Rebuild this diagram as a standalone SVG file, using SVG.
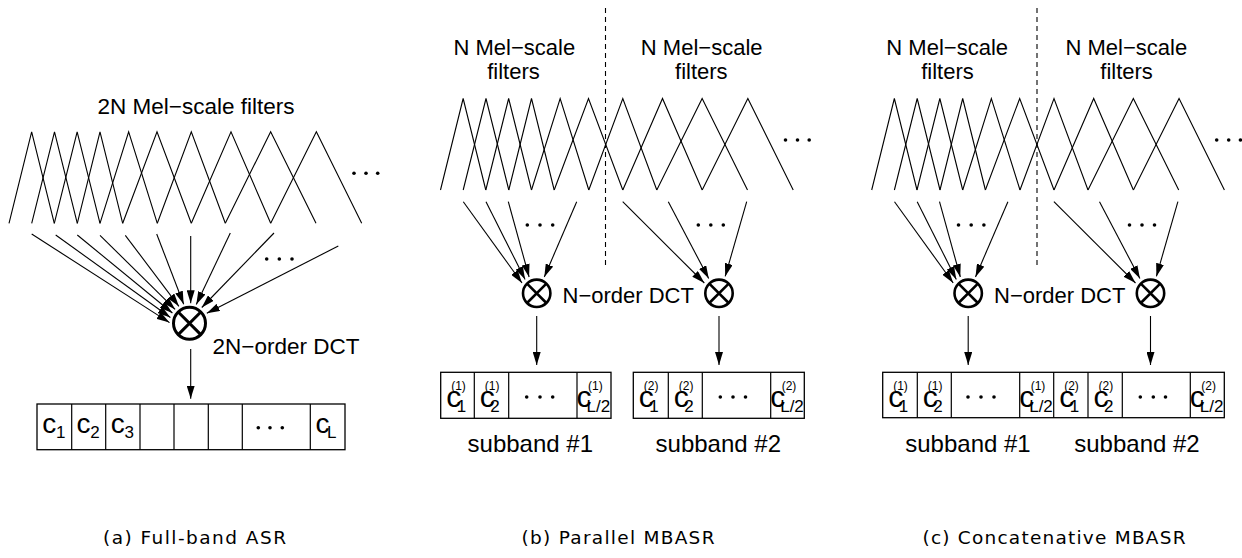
<svg xmlns="http://www.w3.org/2000/svg" xmlns:xlink="http://www.w3.org/1999/xlink" width="1242" height="558" viewBox="0 0 1242 558">
<style>
.t{font-family:"Liberation Sans",Arial,sans-serif;fill:#000}
.lbl{font-size:22px}
.big{font-size:22.5px}
.sb{font-size:24px}
.cap{font-family:"DejaVu Sans",sans-serif;font-size:18.5px;fill:#000}
.cA{font-size:28px}
.cB{font-size:30px}
.sub{font-size:17px}
.sup{font-size:12px}
.fl{fill:none;stroke:#000;stroke-width:1.1}
.ar{fill:none;stroke:#000;stroke-width:1.1;marker-end:url(#ah)}
.bx{fill:#fff;stroke:#000;stroke-width:1.3}
.dv{stroke:#000;stroke-width:1.2}
.dash{stroke:#000;stroke-width:1.1;stroke-dasharray:5 4}
.dot{fill:#000}
</style>
<defs>
<marker id="ah" markerUnits="userSpaceOnUse" markerWidth="13" markerHeight="8" refX="13" refY="4" orient="auto">
<path d="M0,0 L13,4 L0,8 z" fill="#000"/>
</marker>
<g id="bank">
<polyline class="fl" points="9,0 31.65,-91.5 54.3,0"/>
<polyline class="fl" points="31.7,0 54.5,-91.5 77.3,0"/>
<polyline class="fl" points="54.3,0 77.15,-91.5 100,0"/>
<polyline class="fl" points="77.3,0 100,-91.5 122.7,0"/>
<polyline class="fl" points="100,0 128.65,-91.5 157.3,0"/>
<polyline class="fl" points="122.7,0 157,-91.5 191.3,0"/>
<polyline class="fl" points="157.3,0 191.3,-91.5 225.3,0"/>
<polyline class="fl" points="191.3,0 231,-91.5 270.7,0"/>
<polyline class="fl" points="225.3,0 270.65,-91.5 316,0"/>
<polyline class="fl" points="270.7,0 316.35,-91.5 361.7,0"/>
<circle class="dot" cx="354" cy="-50" r="1.8"/>
<circle class="dot" cx="366" cy="-50" r="1.8"/>
<circle class="dot" cx="377.7" cy="-50" r="1.8"/>
</g>
<g id="mulB">
<circle cx="0" cy="0" r="13.7" fill="none" stroke="#000" stroke-width="2.6"/>
<path d="M-9.7,-9.7 L9.7,9.7 M9.7,-9.7 L-9.7,9.7" stroke="#000" stroke-width="2.6"/>
</g>
</defs>

<!-- ===== Panel (a) ===== -->
<g id="a-filters">
<use xlink:href="#bank" transform="translate(0,223.3)"/>
<text class="t big" x="196" y="114.3" text-anchor="middle">2N Mel−scale filters</text>
</g>
<g id="a-dct">
<circle cx="189.5" cy="323.3" r="16" fill="none" stroke="#000" stroke-width="3"/>
<path d="M178.2,312 L200.8,334.6 M200.8,312 L178.2,334.6" stroke="#000" stroke-width="3"/>
<text class="t big" x="212.5" y="354">2N−order DCT</text>
</g>
<g id="a-vector">
<rect class="bx" x="37" y="404" width="308" height="45.7"/>
<path class="dv" d="M71.7,404V449.7M105.7,404V449.7M140,404V449.7M174,404V449.7M208.3,404V449.7M242.3,404V449.7M310.3,404V449.7"/>
<text class="t" x="42.3" y="433.3"><tspan class="cA">c</tspan><tspan class="sub" x="56" y="437.5">1</tspan></text>
<text class="t" x="76.5" y="433.3"><tspan class="cA">c</tspan><tspan class="sub" x="90.2" y="437.5">2</tspan></text>
<text class="t" x="110.7" y="433.3"><tspan class="cA">c</tspan><tspan class="sub" x="124.4" y="437.5">3</tspan></text>
<circle class="dot" cx="258.3" cy="427.7" r="1.8"/>
<circle class="dot" cx="270" cy="427.7" r="1.8"/>
<circle class="dot" cx="282.3" cy="427.7" r="1.8"/>
<text class="t" x="315.5" y="433.3"><tspan class="cA">c</tspan><tspan class="sub" x="327" y="437.5">L</tspan></text>
</g>
<g id="a-caption">
<text class="cap" x="103" y="544" textLength="183" lengthAdjust="spacing">(a) Full-band ASR</text>
</g>

<!-- ===== Panel (b) ===== -->
<g id="b-filters">
<use xlink:href="#bank" transform="translate(431.5,190)"/>
<text class="t lbl" x="514.3" y="55" text-anchor="middle">N Mel−scale</text>
<text class="t lbl" x="513.5" y="79.3" text-anchor="middle">filters</text>
<text class="t lbl" x="701.7" y="55" text-anchor="middle">N Mel−scale</text>
<text class="t lbl" x="701.3" y="79.3" text-anchor="middle">filters</text>
<line class="dash" x1="605.5" y1="8" x2="605.5" y2="267"/>
</g>
<g id="b-dct">
<use xlink:href="#mulB" transform="translate(536.7,293.3)"/>
<use xlink:href="#mulB" transform="translate(719,293.3)"/>
<text class="t lbl" x="562.5" y="303.3">N−order DCT</text>
</g>
<g id="b-vector1">
<rect class="bx" x="440.7" y="372.3" width="170.3" height="46"/>
<path class="dv" d="M474.3,372.3V418.3M508.7,372.3V418.3M577,372.3V418.3"/>
<text class="t" x="446.2" y="406.7"><tspan class="cB">c</tspan><tspan class="sup" x="451.2" y="389.5">(1)</tspan><tspan class="sub" x="456.7" y="411.7">1</tspan></text>
<text class="t" x="479.8" y="406.7"><tspan class="cB">c</tspan><tspan class="sup" x="484.8" y="389.5">(1)</tspan><tspan class="sub" x="490.3" y="411.7">2</tspan></text>
<circle class="dot" cx="526.7" cy="397" r="1.8"/>
<circle class="dot" cx="540" cy="397" r="1.8"/>
<circle class="dot" cx="552.7" cy="397" r="1.8"/>
<text class="t" x="576.5" y="406.7"><tspan class="cB">c</tspan><tspan class="sup" x="588" y="389.5">(1)</tspan><tspan class="sub" x="586.5" y="411.7">L/2</tspan></text>
<text class="t sb" x="530.3" y="451.7" text-anchor="middle">subband #1</text>
</g>
<g id="b-vector2">
<rect class="bx" x="633.3" y="372.3" width="171" height="46"/>
<path class="dv" d="M668.3,372.3V418.3M702.3,372.3V418.3M770.7,372.3V418.3"/>
<text class="t" x="638.8" y="406.7"><tspan class="cB">c</tspan><tspan class="sup" x="643.8" y="389.5">(2)</tspan><tspan class="sub" x="649.3" y="411.7">1</tspan></text>
<text class="t" x="673.8" y="406.7"><tspan class="cB">c</tspan><tspan class="sup" x="678.8" y="389.5">(2)</tspan><tspan class="sub" x="684.3" y="411.7">2</tspan></text>
<circle class="dot" cx="720.3" cy="397" r="1.8"/>
<circle class="dot" cx="733" cy="397" r="1.8"/>
<circle class="dot" cx="745.5" cy="397" r="1.8"/>
<text class="t" x="770.2" y="406.7"><tspan class="cB">c</tspan><tspan class="sup" x="781.7" y="389.5">(2)</tspan><tspan class="sub" x="780.2" y="411.7">L/2</tspan></text>
<text class="t sb" x="718.3" y="451.7" text-anchor="middle">subband #2</text>
</g>
<g id="b-caption">
<text class="cap" x="521.5" y="544" textLength="193" lengthAdjust="spacing">(b) Parallel MBASR</text>
</g>

<!-- ===== Panel (c) ===== -->
<g id="c-filters">
<use xlink:href="#bank" transform="translate(862.7,190)"/>
<text class="t lbl" x="947.2" y="55" text-anchor="middle">N Mel−scale</text>
<text class="t lbl" x="947.5" y="79.3" text-anchor="middle">filters</text>
<text class="t lbl" x="1126.3" y="55" text-anchor="middle">N Mel−scale</text>
<text class="t lbl" x="1126.6" y="79.3" text-anchor="middle">filters</text>
<line class="dash" x1="1037" y1="8" x2="1037" y2="268"/>
</g>
<g id="c-dct">
<use xlink:href="#mulB" transform="translate(968.2,293.3)"/>
<use xlink:href="#mulB" transform="translate(1150.5,293.3)"/>
<text class="t lbl" x="994" y="303.3">N−order DCT</text>
</g>
<g id="c-vector">
<rect class="bx" x="882.7" y="372.3" width="341.6" height="45.4"/>
<path class="dv" d="M917.3,372.3V417.7M951.3,372.3V417.7M1019.7,372.3V417.7M1053.7,372.3V417.7M1088,372.3V417.7M1122.3,372.3V417.7M1190.3,372.3V417.7"/>
<text class="t" x="888.2" y="406.7"><tspan class="cB">c</tspan><tspan class="sup" x="893.2" y="389.5">(1)</tspan><tspan class="sub" x="898.7" y="411.7">1</tspan></text>
<text class="t" x="922.8" y="406.7"><tspan class="cB">c</tspan><tspan class="sup" x="927.8" y="389.5">(1)</tspan><tspan class="sub" x="933.3" y="411.7">2</tspan></text>
<circle class="dot" cx="968" cy="397" r="1.8"/>
<circle class="dot" cx="981" cy="397" r="1.8"/>
<circle class="dot" cx="994" cy="397" r="1.8"/>
<text class="t" x="1019.2" y="406.7"><tspan class="cB">c</tspan><tspan class="sup" x="1030.7" y="389.5">(1)</tspan><tspan class="sub" x="1029.2" y="411.7">L/2</tspan></text>
<text class="t" x="1059.2" y="406.7"><tspan class="cB">c</tspan><tspan class="sup" x="1064.2" y="389.5">(2)</tspan><tspan class="sub" x="1069.7" y="411.7">1</tspan></text>
<text class="t" x="1093.5" y="406.7"><tspan class="cB">c</tspan><tspan class="sup" x="1098.5" y="389.5">(2)</tspan><tspan class="sub" x="1104" y="411.7">2</tspan></text>
<circle class="dot" cx="1140.3" cy="397" r="1.8"/>
<circle class="dot" cx="1153.3" cy="397" r="1.8"/>
<circle class="dot" cx="1165.5" cy="397" r="1.8"/>
<text class="t" x="1189.8" y="406.7"><tspan class="cB">c</tspan><tspan class="sup" x="1201.3" y="389.5">(2)</tspan><tspan class="sub" x="1199.8" y="411.7">L/2</tspan></text>
<text class="t sb" x="968" y="451.7" text-anchor="middle">subband #1</text>
<text class="t sb" x="1137" y="451.7" text-anchor="middle">subband #2</text>
</g>
<g id="c-caption">
<text class="cap" x="922.5" y="544" textLength="263" lengthAdjust="spacing">(c) Concatenative MBASR</text>
</g>

<!-- ===== Connectors ===== -->
<g id="connectors">
<path class="ar" d="M31.7,234 L169.5,322.6"/>
<path class="ar" d="M55.7,235 L170.4,317.5"/>
<path class="ar" d="M77.3,235 L172.4,313"/>
<path class="ar" d="M100,235.3 L175.1,309.4"/>
<path class="ar" d="M125.3,235.3 L178.9,306.3"/>
<path class="ar" d="M156.7,234 L183.7,304.2"/>
<path class="ar" d="M190.7,236 L190.7,303.3"/>
<path class="ar" d="M230.3,233 L196.3,304.5"/>
<path class="ar" d="M274,233 L201.8,307.5"/>
<path class="ar" d="M338.3,246 L206.8,313.3"/>
<circle class="dot" cx="266.7" cy="259" r="1.8"/>
<circle class="dot" cx="279.3" cy="259" r="1.8"/>
<circle class="dot" cx="292" cy="259" r="1.8"/>
<path class="ar" d="M190.7,349 L190.7,398.7"/>
<g transform="translate(431.5,0)">
<path class="ar" d="M31.8,201.7 L90.5,283"/>
<path class="ar" d="M54.5,201.7 L93.6,279.5"/>
<path class="ar" d="M76.8,201.7 L97.6,277"/>
<path class="ar" d="M145.2,201.7 L112.8,277"/>
<path class="ar" d="M191.2,201.7 L272.8,283"/>
<path class="ar" d="M236.8,201.7 L277.2,278.6"/>
<path class="ar" d="M315.2,201.7 L293.7,276.4"/>
<circle class="dot" cx="95.8" cy="225" r="1.8"/><circle class="dot" cx="108.5" cy="225" r="1.8"/><circle class="dot" cx="121.2" cy="225" r="1.8"/>
<circle class="dot" cx="266.8" cy="225" r="1.8"/><circle class="dot" cx="279.3" cy="225" r="1.8"/><circle class="dot" cx="291.8" cy="225" r="1.8"/>
<path class="ar" d="M105.2,316 L105.2,365"/>
<path class="ar" d="M287.5,316 L287.5,365"/>
</g>
<g transform="translate(862.7,0)">
<path class="ar" d="M31.8,201.7 L90.5,283"/>
<path class="ar" d="M54.5,201.7 L93.6,279.5"/>
<path class="ar" d="M76.8,201.7 L97.6,277"/>
<path class="ar" d="M145.2,201.7 L112.8,277"/>
<path class="ar" d="M191.2,201.7 L272.8,283"/>
<path class="ar" d="M236.8,201.7 L277.2,278.6"/>
<path class="ar" d="M315.2,201.7 L293.7,276.4"/>
<circle class="dot" cx="95.8" cy="225" r="1.8"/><circle class="dot" cx="108.5" cy="225" r="1.8"/><circle class="dot" cx="121.2" cy="225" r="1.8"/>
<circle class="dot" cx="266.8" cy="225" r="1.8"/><circle class="dot" cx="279.3" cy="225" r="1.8"/><circle class="dot" cx="291.8" cy="225" r="1.8"/>
<path class="ar" d="M105.5,316 L105.5,365"/>
<path class="ar" d="M287.8,316 L287.8,365"/>
</g>
</g>
</svg>
